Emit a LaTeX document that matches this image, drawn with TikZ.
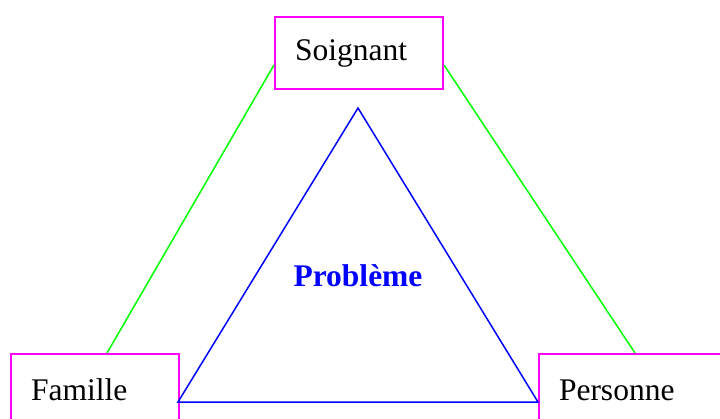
\documentclass[tikz,border=0pt]{standalone}
\usepackage{fontspec}
\setmainfont{Liberation Serif}
\definecolor{cadre}{RGB}{255,0,255}
\begin{document}
\begin{tikzpicture}[x=1pt,y=-1pt]
        \tikzstyle{every node}=[font=\fontsize{31.5}{36}\selectfont];
        \tikzstyle{acteur}=[draw=cadre, line width=2pt, minimum height=72pt, inner xsep=20pt, anchor=north west, align=left];
        \tikzstyle{lien}=[green, line width=1.5pt];
        \useasboundingbox (0,0) rectangle (720,418);
        \clip (0,0) rectangle (720,418);
        \node[acteur, text width=128pt] (soignant) at (274,16) {Soignant};
        \node[acteur, text width=128pt] (famille) at (10,353) {Famille};
        \node[acteur, text width=152pt] (personne) at (538,353) {Personne};
        \draw[lien] ([yshift=-12pt]soignant.west) -- ([xshift=12pt]famille.north);
        \draw[lien] ([yshift=-12pt]soignant.east) -- (personne.north);
        \coordinate (sommet) at (358,108);
        \coordinate (gauche) at (178,402);
        \coordinate (droite) at (538,402);
        \draw[blue, line width=1.5pt] (sommet) -- (droite) -- (gauche) -- cycle;
        \node[text=blue, font=\fontsize{31.5}{36}\selectfont\bfseries] (probleme) at (358,276) {Problème};
    \end{tikzpicture}
\end{document}
